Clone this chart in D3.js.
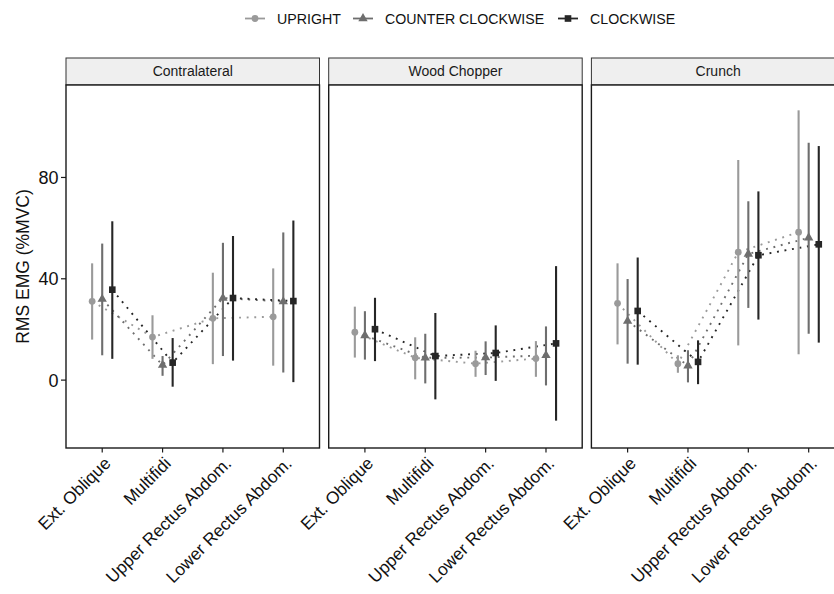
<!DOCTYPE html>
<html>
<head>
<meta charset="utf-8">
<script src="https://cdn.jsdelivr.net/npm/d3@7"></script>
<style>
  body { margin: 0; background: #fff; }
  svg { display: block; font-family: "Liberation Sans", Arial, sans-serif; }
</style>
</head>
<body>
<div id="chart"></div>
<script>
// ---------- data ----------
const panels = ["Contralateral", "Wood Chopper", "Crunch"];
const muscles = ["Ext. Oblique", "Multifidi", "Upper Rectus Abdom.", "Lower Rectus Abdom."];
const seriesNames = ["UPRIGHT", "COUNTER CLOCKWISE", "CLOCKWISE"];
const yTicks = [0, 40, 80];

// mean values [panel][muscle]
const uprightMean = [[31.1, 17.0, 24.4, 25.0], [18.9, 8.8, 6.5, 8.5], [30.3, 6.5, 50.5, 58.4]];
const uprightLow  = [[16.0, 8.4, 6.3, 5.7], [8.9, 0.3, 1.3, 1.3], [14.1, 2.9, 13.7, 10.2]];
const uprightHigh = [[46.1, 25.6, 42.4, 44.1], [29.0, 16.9, 11.6, 15.4], [46.1, 9.8, 86.9, 106.5]];

const ccwMean = [[32.0, 5.9, 32.4, 31.0], [17.6, 8.8, 8.9, 9.8], [23.3, 5.7, 49.8, 56.2]];
const ccwLow  = [[9.8, 1.7, 9.5, 3.0], [8.1, -1.3, 2.0, -2.1], [6.5, -0.9, 28.5, 18.3]];
const ccwHigh = [[53.9, 9.5, 54.2, 58.3], [27.2, 18.3, 15.3, 21.2], [39.9, 11.8, 70.6, 93.7]];

const cwMean = [[35.7, 6.9, 32.4, 31.2], [20.1, 9.5, 10.7, 14.5], [27.3, 7.2, 49.3, 53.6]];
const cwLow  = [[8.4, -2.6, 7.7, -0.8], [7.5, -7.6, -0.3, -16.0], [6.1, -1.6, 23.9, 14.8]];
const cwHigh = [[62.7, 16.6, 56.9, 63.0], [32.5, 26.5, 21.6, 45.0], [48.4, 15.7, 74.5, 92.4]];

const seriesColors = ["#9a9a9a", "#6e6e6e", "#262626"];

// ---------- layout ----------
const W = 834, H = 594;
const svg = d3.select("#chart").append("svg").attr("width", W).attr("height", H);

const panelW = 253.5, panelStep = 262.7, panelLeft0 = 66;
const stripTop = 58, stripBottom = 85, panelBottom = 448;

const y = d3.scaleLinear().domain([-26.8, 116.5]).range([panelBottom, stripBottom]);

const series = [
  { name: seriesNames[0], mean: uprightMean, low: uprightLow, high: uprightHigh, color: seriesColors[0], shape: d3.symbolCircle, size: 36 },
  { name: seriesNames[1], mean: ccwMean, low: ccwLow, high: ccwHigh, color: seriesColors[1], shape: d3.symbolTriangle, size: 38 },
  { name: seriesNames[2], mean: cwMean, low: cwLow, high: cwHigh, color: seriesColors[2], shape: d3.symbolSquare, size: 44 }
];

panels.forEach((pName, p) => {
  const left = panelLeft0 + p * panelStep;
  const x = d3.scalePoint().domain(muscles).range([left, left + panelW]).padding(0.6);
  const step = x.step();
  const g = svg.append("g");

  // strip
  g.append("rect").attr("x", left).attr("y", stripTop).attr("width", panelW).attr("height", stripBottom - stripTop)
    .attr("fill", "#efefef").attr("stroke", "#333").attr("stroke-width", 1);
  g.append("text").attr("x", left + panelW / 2).attr("y", (stripTop + stripBottom) / 2)
    .attr("dy", "0.35em").attr("text-anchor", "middle").attr("font-size", 14).attr("fill", "#1a1a1a").text(pName);

  // panel background
  g.append("rect").attr("x", left).attr("y", stripBottom).attr("width", panelW).attr("height", panelBottom - stripBottom)
    .attr("fill", "#fff");

  // series
  series.forEach((s, si) => {
    const off = (si - 1) * step * 0.167;
    const pts = muscles.map((m, mi) => ({ x: x(m) + off, m: s.mean[p][mi], lo: s.low[p][mi], hi: s.high[p][mi] }));
    g.append("path")
      .attr("d", d3.line().x(d => d.x).y(d => y(d.m))(pts))
      .attr("fill", "none").attr("stroke", s.color).attr("stroke-width", 1.9)
      .attr("stroke-dasharray", "1.9,5.7");
    s._pts = pts;
  });
  series.forEach(s => {
    g.selectAll(null).data(s._pts).join("line")
      .attr("x1", d => d.x).attr("x2", d => d.x)
      .attr("y1", d => y(d.lo)).attr("y2", d => y(d.hi))
      .attr("stroke", s.color).attr("stroke-width", 2.1);
  });
  series.forEach(s => {
    g.selectAll(null).data(s._pts).join("path")
      .attr("transform", d => `translate(${d.x},${y(d.m)})`)
      .attr("d", d3.symbol().type(s.shape).size(s.size)())
      .attr("fill", s.color);
  });

  // panel border
  g.append("rect").attr("x", left).attr("y", stripBottom).attr("width", panelW).attr("height", panelBottom - stripBottom)
    .attr("fill", "none").attr("stroke", "#1a1a1a").attr("stroke-width", 1.4);

  // x axis ticks and labels
  const xa = g.append("g");
  muscles.forEach(m => {
    xa.append("line").attr("x1", x(m)).attr("x2", x(m)).attr("y1", panelBottom).attr("y2", panelBottom + 4.5)
      .attr("stroke", "#1a1a1a").attr("stroke-width", 1.2);
    xa.append("text")
      .attr("transform", `translate(${x(m) + 9.5},${panelBottom + 16.5}) rotate(-45)`)
      .attr("text-anchor", "end").attr("font-size", 17.3).attr("fill", "#111").text(m);
  });
});

// y axis (left panel only)
const ya = svg.append("g");
yTicks.forEach(t => {
  ya.append("line").attr("x1", panelLeft0 - 5).attr("x2", panelLeft0).attr("y1", y(t)).attr("y2", y(t))
    .attr("stroke", "#1a1a1a").attr("stroke-width", 1.2);
  ya.append("text").attr("x", panelLeft0 - 7.5).attr("y", y(t)).attr("dy", "0.36em")
    .attr("text-anchor", "end").attr("font-size", 18).attr("fill", "#111").text(t);
});
svg.append("text")
  .attr("transform", `translate(28.5,${(stripBottom + panelBottom) / 2}) rotate(-90)`)
  .attr("text-anchor", "middle").attr("font-size", 17.5).attr("fill", "#111").text("RMS EMG (%MVC)");

// legend
const legendX = [255, 363, 568];
const lg = svg.append("g");
series.forEach((s, i) => {
  const cx = legendX[i], cy = 18.5;
  lg.append("line").attr("x1", cx - 10).attr("x2", cx + 10).attr("y1", cy).attr("y2", cy)
    .attr("stroke", s.color).attr("stroke-width", 1.8);
  lg.append("path").attr("transform", `translate(${cx},${cy})`)
    .attr("d", d3.symbol().type(s.shape).size(s.size)()).attr("fill", s.color);
  lg.append("text").attr("x", cx + 22).attr("y", cy).attr("dy", "0.36em")
    .attr("font-size", 14.2).attr("fill", "#111").text(s.name);
});
</script>
</body>
</html>
